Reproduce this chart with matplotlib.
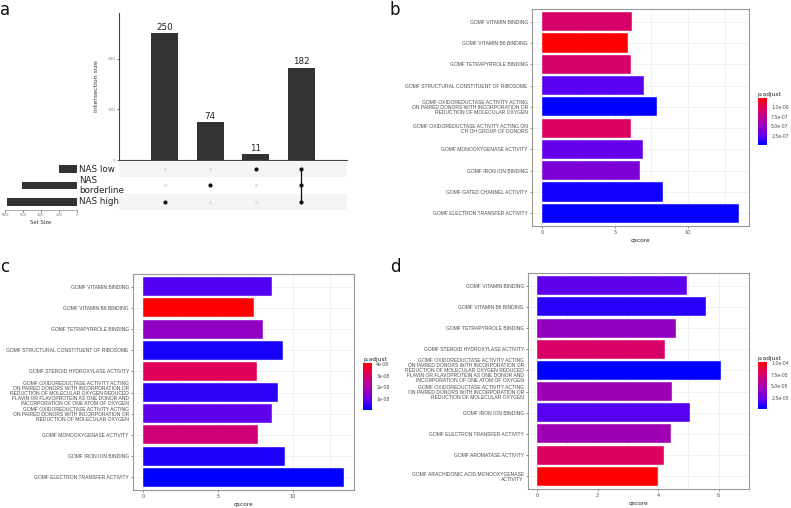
import numpy as np
import matplotlib.pyplot as plt
from matplotlib.colors import LinearSegmentedColormap, Normalize
from matplotlib.cm import ScalarMappable
from matplotlib import font_manager

W, H = 791, 508

# ---- panel a: upset data ----
sets = ["NAS low", "NAS\nborderline", "NAS high"]
set_sizes = [195, 610, 775]
inter_sizes = [250, 74, 11, 182]
# membership per intersection column, in order low, borderline, high
inter_members = [[0, 0, 1], [0, 1, 0], [1, 0, 0], [1, 1, 1]]

# ---- panel b ----
b_terms = [
    "GOMF VITAMIN BINDING",
    "GOMF VITAMIN B6 BINDING",
    "GOMF TETRAPYRROLE BINDING",
    "GOMF STRUCTURAL CONSTITUENT OF RIBOSOME",
    "GOMF OXIDOREDUCTASE ACTIVITY ACTING\nON PAIRED DONORS WITH INCORPORATION OR\nREDUCTION OF MOLECULAR OXYGEN",
    "GOMF OXIDOREDUCTASE ACTIVITY ACTING ON\nCH OH GROUP OF DONORS",
    "GOMF MONOOXYGENASE ACTIVITY",
    "GOMF IRON ION BINDING",
    "GOMF GATED CHANNEL ACTIVITY",
    "GOMF ELECTRON TRANSFER ACTIVITY",
]
b_qscore = [6.15, 5.9, 6.1, 7.0, 7.85, 6.1, 6.9, 6.7, 8.3, 13.5]
b_padj = [9.3e-07, 1.24e-06, 9.2e-07, 2.3e-07, 1e-09, 9.6e-07, 2.7e-07, 3.8e-07, 4e-08, 2e-08]

# ---- panel c ----
c_terms = [
    "GOMF VITAMIN BINDING",
    "GOMF VITAMIN B6 BINDING",
    "GOMF TETRAPYRROLE BINDING",
    "GOMF STRUCTURAL CONSTITUENT OF RIBOSOME",
    "GOMF STEROID HYDROXYLASE ACTIVITY",
    "GOMF OXIDOREDUCTASE ACTIVITY ACTING\nON PAIRED DONORS WITH INCORPORATION OR\nREDUCTION OF MOLECULAR OXYGEN REDUCED\nFLAVIN OR FLAVOPROTEIN AS ONE DONOR AND\nINCORPORATION OF ONE ATOM OF OXYGEN",
    "GOMF OXIDOREDUCTASE ACTIVITY ACTING\nON PAIRED DONORS WITH INCORPORATION OR\nREDUCTION OF MOLECULAR OXYGEN",
    "GOMF MONOOXYGENASE ACTIVITY",
    "GOMF IRON ION BINDING",
    "GOMF ELECTRON TRANSFER ACTIVITY",
]
c_qscore = [8.6, 7.4, 8.0, 9.35, 7.6, 9.0, 8.6, 7.7, 9.5, 13.4]
c_padj = [7.5e-09, 4.1e-08, 1.6e-08, 2.5e-09, 3.3e-08, 4.5e-09, 8.5e-09, 2.9e-08, 3e-09, 6e-10]

# ---- panel d ----
d_terms = [
    "GOMF VITAMIN BINDING",
    "GOMF VITAMIN B6 BINDING",
    "GOMF TETRAPYRROLE BINDING",
    "GOMF STEROID HYDROXYLASE ACTIVITY",
    "GOMF OXIDOREDUCTASE ACTIVITY ACTING\nON PAIRED DONORS WITH INCORPORATION OR\nREDUCTION OF MOLECULAR OXYGEN REDUCED\nFLAVIN OR FLAVOPROTEIN AS ONE DONOR AND\nINCORPORATION OF ONE ATOM OF OXYGEN",
    "GOMF OXIDOREDUCTASE ACTIVITY ACTING\nON PAIRED DONORS WITH INCORPORATION OR\nREDUCTION OF MOLECULAR OXYGEN",
    "GOMF IRON ION BINDING",
    "GOMF ELECTRON TRANSFER ACTIVITY",
    "GOMF AROMATASE ACTIVITY",
    "GOMF ARACHIDONIC ACID MONOOXYGENASE\nACTIVITY",
]
d_qscore = [4.94, 5.57, 4.58, 4.24, 6.08, 4.46, 5.06, 4.42, 4.2, 4.0]
d_padj = [2.1e-05, 9e-06, 4.1e-05, 7.7e-05, 1e-06, 4.6e-05, 1.9e-05, 4.6e-05, 8e-05, 1.02e-04]

narrow = "Liberation Sans Narrow"
names = {f.name for f in font_manager.fontManager.ttflist}
if narrow not in names:
    narrow = "Liberation Sans"

cmap = LinearSegmentedColormap.from_list(
    "bluered", [(0, "#0000FF"), (0.2, "#6000EE"), (0.4, "#9500BE"),
                (0.6, "#BE0092"), (0.8, "#E0005A"), (1, "#FF0000")])


def px_axes(fig, x0, y0, x1, y1):
    return fig.add_axes([x0 / W, 1 - y1 / H, (x1 - x0) / W, (y1 - y0) / H])


def go_panel(fig, box, terms, qscore, padj, xticks, cbox, cticks, clabels):
    ax = px_axes(fig, *box)
    n = len(terms)
    ypos = np.arange(n)[::-1]
    norm = Normalize(min(padj), max(padj))
    ax.barh(ypos, qscore, height=0.9, color=cmap(norm(padj)),
            edgecolor="white", linewidth=0.3, zorder=2)
    xmax = max(qscore)
    ax.set_xlim(-0.05 * xmax, 1.05 * xmax)
    ax.set_ylim(-0.6, n - 0.4)
    ax.set_yticks(ypos)
    ax.set_yticklabels(terms, fontsize=3.6, family=narrow, color="#4d4d4d",
                       linespacing=1.0)
    ax.set_xticks(xticks)
    ax.set_xticklabels([str(t) for t in xticks], fontsize=3.6, color="#4d4d4d")
    minor = [(a + b) / 2 for a, b in zip(xticks[:-1], xticks[1:])]
    minor.append(xticks[-1] + (xticks[1] - xticks[0]) / 2)
    ax.set_xticks(minor, minor=True)
    ax.tick_params(which="minor", length=0)
    ax.tick_params(length=1.5, width=0.4, color="#333333", pad=1.5)
    ax.grid(True, which="both", color="#EBEBEB", linewidth=0.5, zorder=0)
    ax.set_axisbelow(True)
    for s in ax.spines.values():
        s.set_color("#999999")
        s.set_linewidth(0.8)
    ax.set_xlabel("qscore", fontsize=4.2, color="#222222", labelpad=2)

    cax = px_axes(fig, *cbox)
    cb = fig.colorbar(ScalarMappable(norm=norm, cmap=cmap), cax=cax)
    cb.outline.set_visible(False)
    cb.set_ticks(cticks)
    cb.set_ticklabels(clabels)
    cax.tick_params(labelsize=3.3, length=2, width=0.4, color="white",
                    labelcolor="#4d4d4d", pad=1)
    cax.text(0, 1.03, "p.adjust", transform=cax.transAxes, fontsize=4.2,
             va="bottom", ha="left", color="#222222")
    return ax


fig = plt.figure(figsize=(W / 100, H / 100), dpi=100)

# ---------- panel a ----------
axb = px_axes(fig, 119, 13, 347, 160)
xs = np.arange(len(inter_sizes))
axb.bar(xs, inter_sizes, width=0.6, color="#333333")
for x, v in zip(xs, inter_sizes):
    axb.text(x, v + 3, str(v), ha="center", va="bottom", fontsize=6.3, color="#222222")
axb.set_xlim(-1, len(inter_sizes))
axb.set_ylim(0, 290)
axb.set_xticks([])
axb.set_yticks([0, 100, 200])
axb.tick_params(axis="y", labelsize=3, length=1.5, width=0.4, labelcolor="#888888", pad=1)
axb.set_ylabel("Intersection size", fontsize=4.5, color="#333333", labelpad=6)
for s in ["top", "right"]:
    axb.spines[s].set_visible(False)
axb.spines["left"].set_color("#444444")
axb.spines["bottom"].set_color("#444444")
axb.spines["left"].set_linewidth(0.8)
axb.spines["bottom"].set_linewidth(0.8)

axm = px_axes(fig, 119, 161, 347, 210)
nrow = len(sets)
for r in range(nrow):
    yy = nrow - 1 - r
    if r % 2 == 0:
        axm.axhspan(yy - 0.5, yy + 0.5, color="#F5F5F5", lw=0, zorder=0)
for c, mem in enumerate(inter_members):
    ys_on = [nrow - 1 - r for r in range(nrow) if mem[r]]
    ys_off = [nrow - 1 - r for r in range(nrow) if not mem[r]]
    axm.scatter([c] * len(ys_off), ys_off, s=5, color="#E0E0E0", zorder=2, lw=0)
    axm.scatter([c] * len(ys_on), ys_on, s=9, color="#111111", zorder=3, lw=0)
    if len(ys_on) > 1:
        axm.plot([c, c], [min(ys_on), max(ys_on)], color="#111111", lw=0.9, zorder=2)
axm.set_xlim(-1, len(inter_sizes))
axm.set_ylim(-0.5, nrow - 0.5)
axm.axis("off")

axs = px_axes(fig, 5, 161, 77, 210)
axs.barh([nrow - 1 - r for r in range(nrow)], set_sizes, height=0.45, color="#333333")
axs.set_xlim(800, 0)
axs.set_ylim(-0.5, nrow - 0.5)
axs.set_yticks([])
axs.set_xticks([800, 600, 400, 200, 0])
axs.tick_params(axis="x", labelsize=2.8, length=1.5, width=0.4, labelcolor="#888888", pad=1)
axs.set_xlabel("Set Size", fontsize=3.8, color="#333333", labelpad=2)
for s in ["top", "right", "left"]:
    axs.spines[s].set_visible(False)
axs.spines["bottom"].set_color("#888888")
axs.spines["bottom"].set_linewidth(0.5)
for r, name in enumerate(sets):
    axs.text(1.03, nrow - 1 - r, name, transform=axs.get_yaxis_transform(),
             fontsize=6.3, va="center", ha="left", color="#222222", linespacing=1.1)

# ---------- panels b, c, d ----------
go_panel(fig, (532, 9, 749, 226), b_terms, b_qscore, b_padj, [0, 5, 10],
         (758, 98, 767, 145), [2.5e-07, 5.0e-07, 7.5e-07, 1.0e-06],
         ["2.5e-07", "5.0e-07", "7.5e-07", "1.0e-06"])
go_panel(fig, (133, 274, 354, 490), c_terms, c_qscore, c_padj, [0, 5, 10],
         (363, 363, 372, 410), [1e-08, 2e-08, 3e-08, 4e-08],
         ["1e-08", "2e-08", "3e-08", "4e-08"])
go_panel(fig, (528, 273, 749, 489), d_terms, d_qscore, d_padj, [0, 2, 4, 6],
         (758, 362, 767, 409), [2.5e-05, 5.0e-05, 7.5e-05, 1.0e-04],
         ["2.5e-05", "5.0e-05", "7.5e-05", "1.0e-04"])

for lab, x, y in [("a", 5, 10), ("b", 395, 10), ("c", 5, 267), ("d", 395, 267)]:
    fig.text(x / W, 1 - y / H, lab, fontsize=12, va="center", ha="center", color="#111111")

fig.savefig("out.png", dpi=100, facecolor="white")
